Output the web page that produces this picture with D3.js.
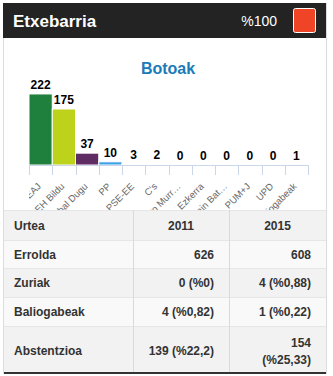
<!DOCTYPE html>
<html>
<head>
<meta charset="utf-8">
<script src="https://d3js.org/d3.v7.min.js"></script>
<style>
  body { margin: 0; background: #fff; }
  svg { display: block; font-family: "Liberation Sans", Arial, sans-serif; }
</style>
</head>
<body>
<svg id="chart" width="333" height="376"></svg>
<script>
// data
var town = "Etxebarria";
var percent = "%100";
var chartTitle = "Botoak";
var parties = ["EAJ", "EH Bildu", "Ahal Dugu", "PP", "PSE-EE", "C's", "Recortes Cero Murr…",
               "Ezkerra", "Berdeak Gain Bat…", "PUM+J", "UPD", "Baliogabeak"];
var votes = [222, 175, 37, 10, 3, 2, 0, 0, 0, 0, 0, 1];
var partyColors = ["#1f7f3d", "#bcd21b", "#5e2b63", "#3fa2e3", "#c8c8c8", "#c8c8c8",
                   "#c8c8c8", "#c8c8c8", "#c8c8c8", "#c8c8c8", "#c8c8c8", "#c8c8c8"];

var tableHeader = ["Urtea", "2011", "2015"];
var rowLabels = ["Errolda", "Zuriak", "Baliogabeak", "Abstentzioa"];
var values2011 = ["626", "0 (%0)", "4 (%0,82)", "139 (%22,2)"];
var values2015 = ["608", "4 (%0,88)", "1 (%0,22)", "154 (%25,33)"];

var svg = d3.select("#chart");

// outer frame
svg.append("rect").attr("x", 3.5).attr("y", 3.5).attr("width", 323).attr("height", 370)
  .attr("fill", "#fff").attr("stroke", "#dcdcdc");

// header bar
svg.append("rect").attr("x", 3).attr("y", 3).attr("width", 323).attr("height", 35).attr("fill", "#232323");
svg.append("text").attr("x", 13).attr("y", 27).attr("fill", "#fff")
  .style("font-size", "17px").style("font-weight", "bold").text(town);
svg.append("text").attr("x", 277).attr("y", 26).attr("text-anchor", "end").attr("fill", "#fff")
  .style("font-size", "14px").text(percent);
svg.append("rect").attr("x", 293.5).attr("y", 8.5).attr("width", 22).attr("height", 24)
  .attr("rx", 2).attr("fill", "#f04426").attr("stroke", "#fff").attr("stroke-width", 1);

// chart
svg.append("text").attr("x", 168).attr("y", 74).attr("text-anchor", "middle").attr("fill", "#1b7bb8")
  .style("font-size", "16px").style("font-weight", "bold").text(chartTitle);

var x = d3.scaleBand().domain(parties).range([29, 308]).padding(0);
var y = d3.scaleLinear().domain([0, 250]).range([165, 85]);

var plot = svg.append("g");

plot.selectAll("rect.bar").data(votes).enter().append("rect")
  .attr("class", "bar")
  .attr("x", (d, i) => x(parties[i]))
  .attr("width", x.bandwidth())
  .attr("y", d => y(d))
  .attr("height", d => y(0) - y(d))
  .attr("fill", (d, i) => partyColors[i])
  .attr("stroke", "#fff").attr("stroke-width", 1);

// axis line and ticks (between categories)
var axisColor = "#ccd6eb";
plot.append("line").attr("x1", 29).attr("x2", 308).attr("y1", y(0) + 0.5).attr("y2", y(0) + 0.5)
  .attr("stroke", axisColor);
var bounds = parties.map(p => x(p)).concat([x.range()[1]]);
plot.selectAll("line.tick").data(bounds).enter().append("line")
  .attr("class", "tick")
  .attr("x1", d => Math.round(d) + 0.5).attr("x2", d => Math.round(d) + 0.5)
  .attr("y1", y(0)).attr("y2", y(0) + 10)
  .attr("stroke", axisColor);

// data labels
plot.selectAll("text.val").data(votes).enter().append("text")
  .attr("class", "val")
  .attr("x", (d, i) => x(parties[i]) + x.bandwidth() / 2)
  .attr("y", d => y(d) - 5)
  .attr("text-anchor", "middle")
  .attr("fill", "#000")
  .style("font-size", "12px").style("font-weight", "bold")
  .text(d => d);

// rotated category labels, clipped by the table below
svg.append("clipPath").attr("id", "lblclip").append("rect")
  .attr("x", 29).attr("y", 166).attr("width", 300).attr("height", 44);
var lbl = svg.append("g").attr("clip-path", "url(#lblclip)");
lbl.selectAll("text").data(parties).enter().append("text")
  .attr("transform", d => "translate(" + (x(d) + x.bandwidth() / 2 + 1) + "," + 187 + ") rotate(-45)")
  .attr("text-anchor", "end")
  .attr("fill", "#666")
  .style("font-size", "9.5px")
  .text(d => d);

// table
var rowTops = [210, 240, 268, 297, 326];
var rowBottom = 374;
var colX = [3, 133, 229, 326];
var rowFill = ["#f2f2f2", "#f9f9f9", "#f2f2f2", "#f9f9f9", "#f2f2f2"];
var tbl = svg.append("g");

rowTops.forEach(function (t, i) {
  var b = i < rowTops.length - 1 ? rowTops[i + 1] : rowBottom;
  tbl.append("rect").attr("x", 3).attr("y", t).attr("width", 323).attr("height", b - t)
    .attr("fill", rowFill[i]);
  tbl.append("line").attr("x1", 3).attr("x2", 326).attr("y1", t + 0.5).attr("y2", t + 0.5)
    .attr("stroke", "#e6e6e6");
});
[133, 229].forEach(function (cx) {
  tbl.append("line").attr("x1", cx + 0.5).attr("x2", cx + 0.5).attr("y1", 210).attr("y2", rowBottom)
    .attr("stroke", "#dadada");
});
tbl.append("line").attr("x1", 3).attr("x2", 326).attr("y1", rowBottom - 1).attr("y2", rowBottom - 1)
  .attr("stroke", "#333").attr("stroke-width", 2);
svg.append("line").attr("x1", 3.5).attr("x2", 3.5).attr("y1", 38).attr("y2", rowBottom).attr("stroke", "#dcdcdc");
svg.append("line").attr("x1", 326.5).attr("x2", 326.5).attr("y1", 38).attr("y2", rowBottom).attr("stroke", "#dcdcdc");

function cellText(txt, cx, anchor, t, b) {
  var mid = (t + b) / 2;
  var el = tbl.append("text").attr("text-anchor", anchor).attr("fill", "#333")
    .style("font-size", "12px").style("font-weight", "bold");
  el.attr("x", cx).attr("y", mid + 4.5).text(txt);
  return el;
}

// header row
cellText(tableHeader[0], 14, "start", rowTops[0], rowTops[1]);
cellText(tableHeader[1], (colX[1] + colX[2]) / 2, "middle", rowTops[0], rowTops[1]);
cellText(tableHeader[2], (colX[2] + colX[3]) / 2, "middle", rowTops[0], rowTops[1]);

rowLabels.forEach(function (lab, i) {
  var t = rowTops[i + 1];
  var b = i + 2 < rowTops.length ? rowTops[i + 2] : rowBottom;
  cellText(lab, 14, "start", t, b);
  [values2011[i], values2015[i]].forEach(function (v, j) {
    var right = colX[j + 2] - 15;
    var el = cellText(v, right, "end", t, b);
    var avail = 68;
    if (el.node().getComputedTextLength() > avail && v.indexOf(" ") > 0) {
      var parts = v.split(" ");
      var mid = (t + b) / 2;
      el.text(null).attr("y", null);
      el.append("tspan").attr("x", right).attr("y", mid - 3.5).text(parts[0]);
      el.append("tspan").attr("x", right).attr("y", mid + 13.5).text(parts.slice(1).join(" "));
    }
  });
});
</script>
</body>
</html>
